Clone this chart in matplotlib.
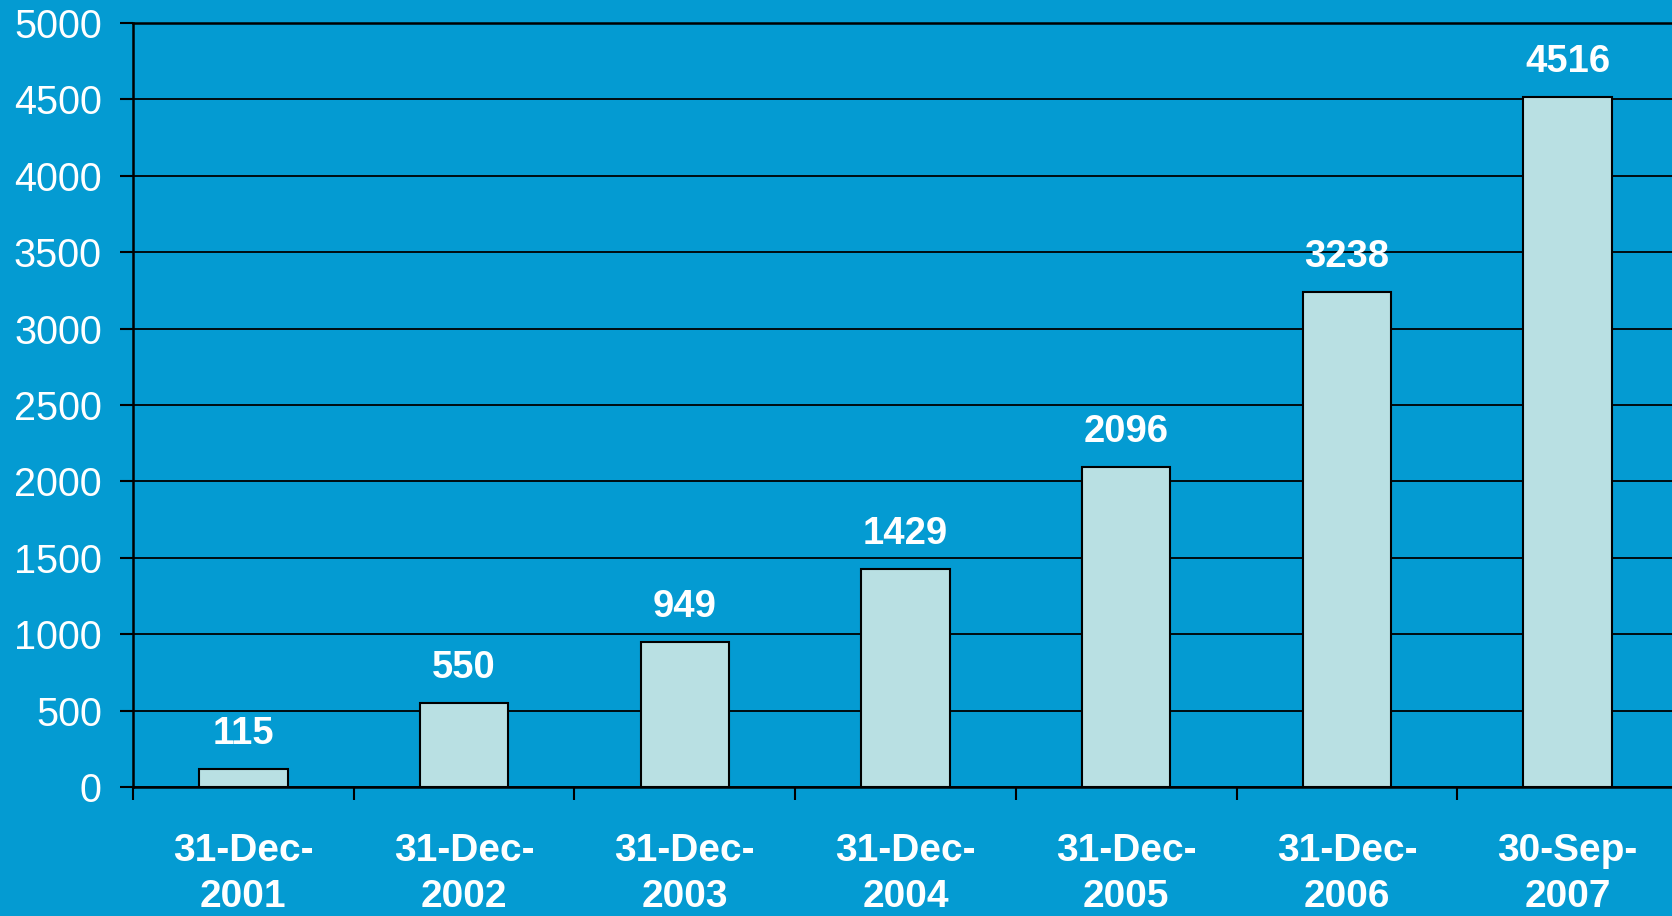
import matplotlib.pyplot as plt
import numpy as np

# --- dados ---
categorias = ['31-Dec-\n2001', '31-Dec-\n2002', '31-Dec-\n2003', '31-Dec-\n2004',
              '31-Dec-\n2005', '31-Dec-\n2006', '30-Sep-\n2007']
valores = [115, 550, 949, 1429, 2096, 3238, 4516]
yticks = list(range(0, 5001, 500))

FUNDO = '#049bd2'
BARRA = '#b9e0e3'

plt.rcParams['font.family'] = ['Liberation Sans', 'DejaVu Sans']

fig = plt.figure(figsize=(16.72, 9.16), dpi=100, facecolor=FUNDO)
W, H = 1672, 916
ax = fig.add_axes([133 / W, (H - 787) / H, (1678 - 133) / W, (787 - 23) / H])
ax.set_facecolor(FUNDO)

x = np.arange(len(valores))
ax.bar(x, valores, width=0.4, color=BARRA, edgecolor='black', linewidth=1.5, zorder=3)

for xi, v in zip(x, valores):
    ax.annotate(str(v), (xi, v), xytext=(0, 18), textcoords='offset points',
                ha='center', va='baseline', fontsize=27.5, fontweight='bold', color='white')

ax.set_xlim(-0.5, len(valores) - 0.5)
ax.set_ylim(0, 5000)
ax.set_yticks(yticks)
ax.set_yticklabels([str(t) for t in yticks], fontsize=28.5, color='white')
ax.tick_params(axis='y', length=9.5, width=1.5, color='black', pad=13)

ax.set_xticks(x)
ax.set_xticklabels(categorias, fontsize=28, fontweight='bold', color='white', linespacing=1.35)
ax.tick_params(axis='x', which='major', length=0, pad=33)
ax.set_xticks(np.arange(-0.5, len(valores), 1), minor=True)
ax.tick_params(axis='x', which='minor', length=9.5, width=1.5, color='black')

ax.yaxis.grid(True, color='black', linewidth=1.3, zorder=1)
ax.set_axisbelow(True)
for lado in ['left', 'bottom', 'top']:
    ax.spines[lado].set_color('black')
    ax.spines[lado].set_linewidth(1.8)
ax.spines['right'].set_visible(False)

fig.savefig('out.png', dpi=100, facecolor=FUNDO)
